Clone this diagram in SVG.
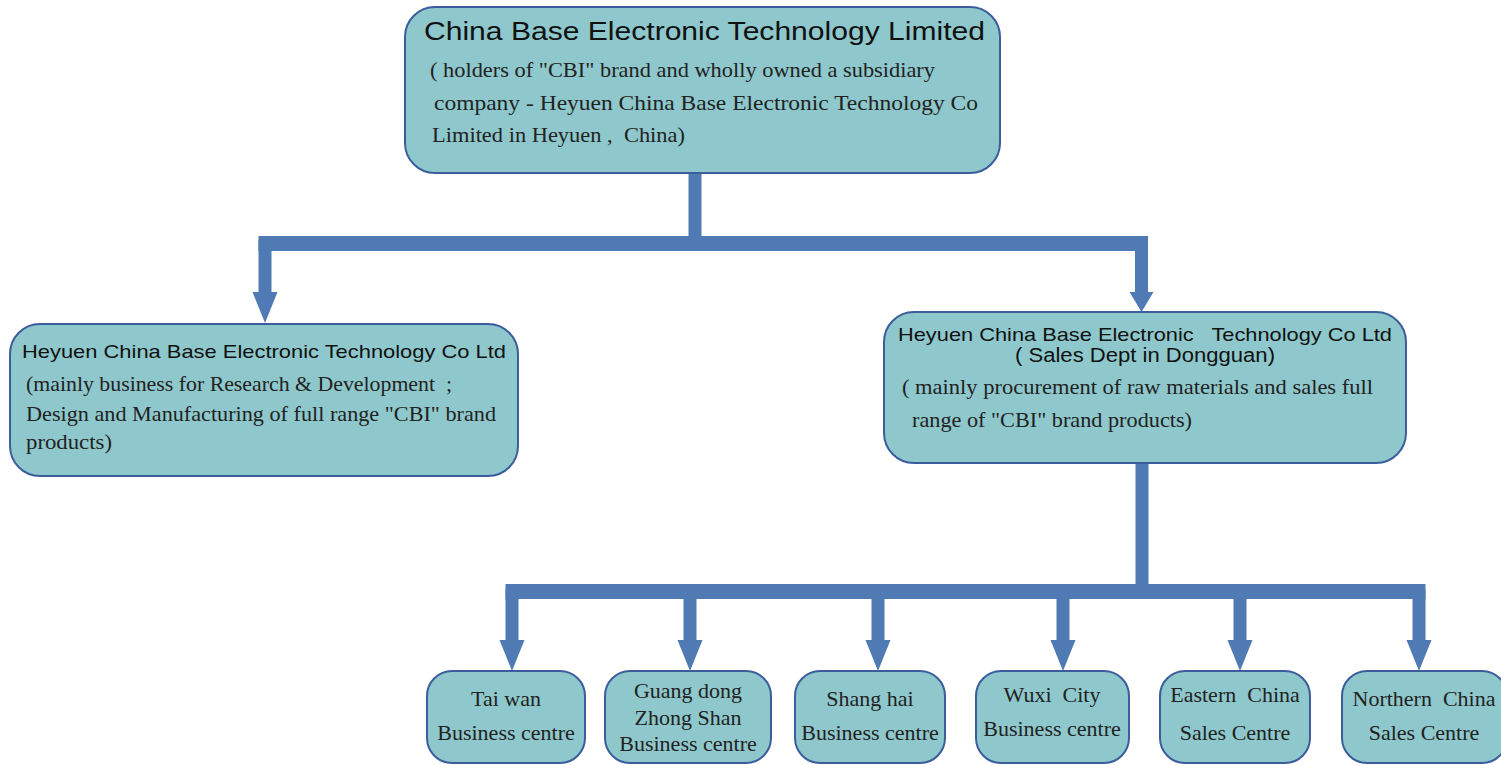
<svg xmlns="http://www.w3.org/2000/svg" width="1501" height="765" viewBox="0 0 1501 765">
<style>
.box{fill:#8ec8cc;stroke:#3c5d9c;stroke-width:2}
.v{fill:none;stroke:#4f7ab4;stroke-width:13}
.hz{fill:none;stroke:#4f7ab4;stroke-width:15}
.head{fill:#4f7ab4}
.h{font-family:"Liberation Sans",Arial,sans-serif;fill:#111}
.s{font-family:"Liberation Serif","Times New Roman",serif;fill:#222}
.c{text-anchor:middle}
</style>
<rect width="1501" height="765" fill="#fff"/>
<g id="connectors">
<path class="v" d="M695,172 V240 M265,240 V294 M1141.5,240 V294"/>
<path class="hz" d="M258.5,243.5 H1148"/>
<polygon class="head" points="252.5,292 277.5,292 265,323"/>
<polygon class="head" points="1129.5,292 1153.5,292 1141.5,312"/>
<path class="v" d="M1142,463 V590 M512,590 V642 M690,590 V642 M878,590 V642 M1063,590 V642 M1240,590 V642 M1419,590 V642"/>
<path class="hz" d="M505.5,591.5 H1425.5"/>
<polygon class="head" points="499.5,640 524.5,640 512,671"/>
<polygon class="head" points="677.5,640 702.5,640 690,671"/>
<polygon class="head" points="865.5,640 890.5,640 878,671"/>
<polygon class="head" points="1050.5,640 1075.5,640 1063,671"/>
<polygon class="head" points="1227.5,640 1252.5,640 1240,671"/>
<polygon class="head" points="1406.5,640 1431.5,640 1419,671"/>
</g>
<g id="top">
<rect class="box" x="405" y="7" width="595" height="166" rx="30"/>
<text class="h" x="424" y="40" font-size="25" textLength="561" lengthAdjust="spacingAndGlyphs">China Base Electronic Technology Limited</text>
<text class="s" x="430" y="77" font-size="22" textLength="505" lengthAdjust="spacingAndGlyphs">( holders of "CBI" brand and wholly owned a subsidiary</text>
<text class="s" x="434" y="110" font-size="22" textLength="544" lengthAdjust="spacingAndGlyphs">company - Heyuen China Base Electronic Technology Co</text>
<text class="s" x="432" y="142" font-size="22" xml:space="preserve" textLength="253" lengthAdjust="spacingAndGlyphs">Limited in Heyuen ,  China)</text>
</g>
<g id="rd">
<rect class="box" x="10" y="324" width="508" height="152" rx="30"/>
<text class="h" x="22" y="358" font-size="19" textLength="484" lengthAdjust="spacingAndGlyphs">Heyuen China Base Electronic Technology Co Ltd</text>
<text class="s" x="26" y="391" font-size="21" xml:space="preserve" textLength="426" lengthAdjust="spacingAndGlyphs">(mainly business for Research &amp; Development  ;</text>
<text class="s" x="26" y="421" font-size="21" textLength="470" lengthAdjust="spacingAndGlyphs">Design and Manufacturing of full range "CBI" brand</text>
<text class="s" x="26" y="449" font-size="21" textLength="86" lengthAdjust="spacingAndGlyphs">products)</text>
</g>
<g id="sales">
<rect class="box" x="884" y="312" width="522" height="151" rx="30"/>
<text class="h" x="898" y="341" font-size="19" xml:space="preserve" textLength="494" lengthAdjust="spacingAndGlyphs">Heyuen China Base Electronic   Technology Co Ltd</text>
<text class="h c" x="1145" y="362" font-size="20" textLength="260" lengthAdjust="spacingAndGlyphs">( Sales Dept in Dongguan)</text>
<text class="s" x="902" y="394" font-size="21" textLength="471" lengthAdjust="spacingAndGlyphs">( mainly procurement of raw materials and sales full</text>
<text class="s" x="912" y="427" font-size="21" textLength="280" lengthAdjust="spacingAndGlyphs">range of "CBI" brand products)</text>
</g>
<g id="taiwan">
<rect class="box" x="427" y="671" width="158" height="92" rx="25"/>
<text class="s c" x="506" y="706" font-size="22">Tai wan</text>
<text class="s c" x="506" y="740" font-size="22">Business centre</text>
</g>
<g id="guangdong">
<rect class="box" x="605" y="671" width="166" height="92" rx="25"/>
<text class="s c" x="688" y="698" font-size="22">Guang dong</text>
<text class="s c" x="688" y="725" font-size="22">Zhong Shan</text>
<text class="s c" x="688" y="751" font-size="22">Business centre</text>
</g>
<g id="shanghai">
<rect class="box" x="795" y="671" width="150" height="92" rx="25"/>
<text class="s c" x="870" y="706" font-size="22">Shang hai</text>
<text class="s c" x="870" y="740" font-size="22">Business centre</text>
</g>
<g id="wuxi">
<rect class="box" x="976" y="671" width="153" height="92" rx="25"/>
<text class="s c" x="1052" y="702" font-size="22" xml:space="preserve">Wuxi  City</text>
<text class="s c" x="1052" y="736" font-size="22">Business centre</text>
</g>
<g id="eastern">
<rect class="box" x="1160" y="671" width="150" height="92" rx="25"/>
<text class="s c" x="1235" y="702" font-size="22" xml:space="preserve">Eastern  China</text>
<text class="s c" x="1235" y="740" font-size="22">Sales Centre</text>
</g>
<g id="northern">
<rect class="box" x="1342" y="671" width="165" height="92" rx="25"/>
<text class="s c" x="1424" y="706" font-size="22" xml:space="preserve">Northern  China</text>
<text class="s c" x="1424" y="740" font-size="22">Sales Centre</text>
</g>
</svg>
